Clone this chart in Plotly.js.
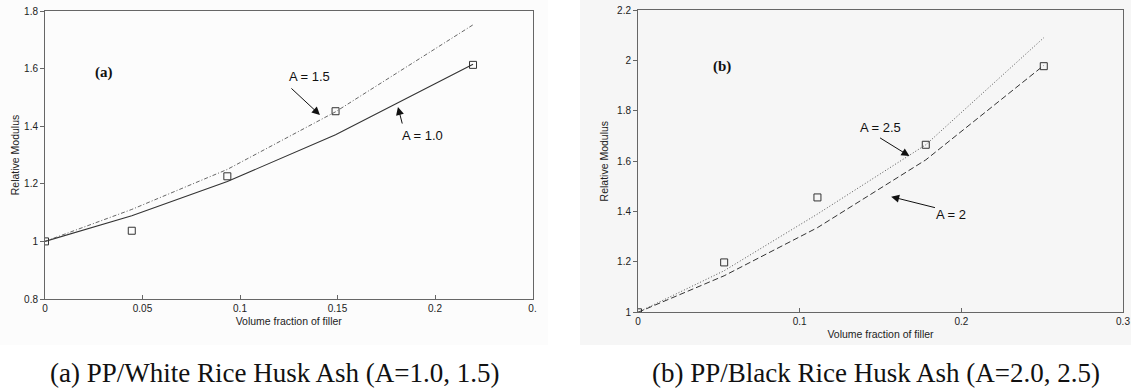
<!DOCTYPE html>
<html>
<head>
<meta charset="utf-8">
<script src="https://cdn.plot.ly/plotly-3.0.1.min.js"></script>
<style>
html,body{margin:0;padding:0;background:#fff;}
#chart{width:1131px;height:392px;}
</style>
</head>
<body>
<div id="chart"></div>
<script>
// ---- Panel (a): PP / White Rice Husk Ash ----
const xA = [0, 0.0445, 0.0935, 0.149, 0.2195];
const expA = [1.0, 1.037, 1.226, 1.452, 1.613];
const modelA10 = [1.0, 1.089, 1.208, 1.37, 1.615];
const modelA15 = [1.0, 1.111, 1.25, 1.45, 1.752];
const xTicksA = [0, 0.05, 0.1, 0.15, 0.2, 0.25];
const xTickTextA = ["0", "0.05", "0.1", "0.15", "0.2", "0."];
const yTicksA = [0.8, 1.0, 1.2, 1.4, 1.6, 1.8];
const yTickTextA = ["0.8", "1", "1.2", "1.4", "1.6", "1.8"];

// ---- Panel (b): PP / Black Rice Husk Ash ----
const xB = [0, 0.0533, 0.111, 0.178, 0.251];
const expB = [1.0, 1.198, 1.456, 1.665, 1.977];
const modelA20 = [1.0, 1.145, 1.336, 1.605, 1.98];
const modelA25 = [1.0, 1.165, 1.39, 1.665, 2.09];
const xTicksB = [0, 0.1, 0.2, 0.3];
const xTickTextB = ["0", "0.1", "0.2", "0.3"];
const yTicksB = [1.0, 1.2, 1.4, 1.6, 1.8, 2.0, 2.2];
const yTickTextB = ["1", "1.2", "1.4", "1.6", "1.8", "2", "2.2"];

const captions = ["(a) PP/White Rice Husk Ash (A=1.0, 1.5)", "(b) PP/Black Rice Husk Ash (A=2.0, 2.5)"];
const axisTitleX = "Volume fraction of filler";
const axisTitleY = "Relative Modulus";

const W = 1131, H = 392;
const px = v => v / W;
const py = v => (H - v) / H;

const sansFont = {family: "Liberation Sans, Arial, sans-serif", size: 10, color: "#222"};
const lineCol = "#333";
const boxCol = "#666";

const traces = [
  {x: xA, y: modelA10, xaxis: "x", yaxis: "y", mode: "lines", name: "A = 1.0",
   line: {color: lineCol, width: 1.1}},
  {x: xA, y: modelA15, xaxis: "x", yaxis: "y", mode: "lines", name: "A = 1.5",
   line: {color: "#555", width: 0.9, dash: "4px,2px,1px,2px"}},
  {x: xA, y: expA, xaxis: "x", yaxis: "y", mode: "markers", name: "Experimental (a)",
   marker: {symbol: "square-open", size: 7, color: lineCol, line: {width: 1, color: lineCol}}},
  {x: xB, y: modelA20, xaxis: "x2", yaxis: "y2", mode: "lines", name: "A = 2",
   line: {color: lineCol, width: 1, dash: "6px,3px"}},
  {x: xB, y: modelA25, xaxis: "x2", yaxis: "y2", mode: "lines", name: "A = 2.5",
   line: {color: "#555", width: 1, dash: "1px,2px"}},
  {x: xB, y: expB, xaxis: "x2", yaxis: "y2", mode: "markers", name: "Experimental (b)",
   marker: {symbol: "square-open", size: 7, color: lineCol, line: {width: 1, color: lineCol}}}
];

function xAxis(domain, range, vals, texts, anchor) {
  return {domain: domain, range: range, anchor: anchor, tickmode: "array", tickvals: vals, ticktext: texts,
    ticks: "inside", ticklen: 4, tickcolor: boxCol, showline: true, mirror: true, linecolor: boxCol, linewidth: 1,
    showgrid: false, zeroline: false, tickfont: sansFont,
    title: {text: axisTitleX, font: {family: sansFont.family, size: 10.5, color: "#222"}, standoff: 4}};
}
function yAxis(domain, range, vals, texts, anchor, standoff) {
  return {domain: domain, range: range, anchor: anchor, tickmode: "array", tickvals: vals, ticktext: texts,
    ticks: "outside", ticklen: 4, tickcolor: boxCol, showline: true, mirror: true, linecolor: boxCol, linewidth: 1,
    showgrid: false, zeroline: false, tickfont: sansFont,
    title: {text: axisTitleY, font: {family: sansFont.family, size: 10.5, color: "#222"}, standoff: standoff}};
}

const annFont = {family: "Liberation Sans, Arial, sans-serif", size: 13, color: "#111"};
const arrowBase = {showarrow: true, arrowhead: 2, arrowsize: 1.6, arrowwidth: 1, arrowcolor: "#111", text: ""};

const annotations = [
  // panel (a)
  {xref: "x", yref: "y", x: 0.0303, y: 1.588, text: "<b>(a)</b>", showarrow: false,
   font: {family: "Liberation Serif, Times New Roman, serif", size: 15, color: "#111"}},
  {xref: "x", yref: "y", x: 0.1354, y: 1.571, text: "A = 1.5", showarrow: false, font: annFont},
  Object.assign({}, arrowBase, {xref: "x", yref: "y", axref: "x", ayref: "y", x: 0.141, y: 1.439, ax: 0.1256, ay: 1.536}),
  {xref: "x", yref: "y", x: 0.1937, y: 1.369, text: "A = 1.0", showarrow: false, font: annFont},
  Object.assign({}, arrowBase, {xref: "x", yref: "y", axref: "x", ayref: "y", x: 0.181, y: 1.467, ax: 0.1834, ay: 1.404}),
  // panel (b)
  {xref: "x2", yref: "y2", x: 0.052, y: 1.975, text: "<b>(b)</b>", showarrow: false,
   font: {family: "Liberation Serif, Times New Roman, serif", size: 15, color: "#111"}},
  {xref: "x2", yref: "y2", x: 0.1498, y: 1.7325, text: "A = 2.5", showarrow: false, font: annFont},
  Object.assign({}, arrowBase, {xref: "x2", yref: "y2", axref: "x2", ayref: "y2", x: 0.1679, y: 1.620, ax: 0.1488, ay: 1.696}),
  {xref: "x2", yref: "y2", x: 0.1936, y: 1.390, text: "A = 2", showarrow: false, font: annFont},
  Object.assign({}, arrowBase, {xref: "x2", yref: "y2", axref: "x2", ayref: "y2", x: 0.1566, y: 1.459, ax: 0.1846, ay: 1.414}),
  // captions
  {xref: "paper", yref: "paper", x: px(274.5), y: py(373), text: captions[0], showarrow: false,
   xanchor: "center", yanchor: "middle",
   font: {family: "Liberation Serif, Times New Roman, serif", size: 27, color: "#111"}},
  {xref: "paper", yref: "paper", x: px(876), y: py(373), text: captions[1], showarrow: false,
   xanchor: "center", yanchor: "middle",
   font: {family: "Liberation Serif, Times New Roman, serif", size: 27, color: "#111"}}
];

const layout = {
  width: W, height: H,
  margin: {l: 0, r: 0, t: 0, b: 0, pad: 0},
  paper_bgcolor: "#fff", plot_bgcolor: "rgba(0,0,0,0)",
  showlegend: false,
  xaxis: xAxis([px(45), px(532.5)], [0, 0.25], xTicksA, xTickTextA, "y"),
  yaxis: yAxis([py(299), py(11)], [0.8, 1.8], yTicksA, yTickTextA, "x", 2),
  xaxis2: xAxis([px(638), px(1123)], [0, 0.3], xTicksB, xTickTextB, "y2"),
  yaxis2: yAxis([py(312.3), py(10)], [1.0, 2.2], yTicksB, yTickTextB, "x2", 6),
  annotations: annotations,
  shapes: [
    {type: "rect", xref: "paper", yref: "paper", x0: 0, x1: px(548), y0: py(345), y1: 1, fillcolor: "#fcfcfc", line: {width: 0}, layer: "below"},
    {type: "rect", xref: "paper", yref: "paper", x0: px(580), x1: 1, y0: py(345), y1: 1, fillcolor: "#f6f6f6", line: {width: 0}, layer: "below"}
  ]
};

Plotly.newPlot("chart", traces, layout, {staticPlot: true, displayModeBar: false});
</script>
</body>
</html>
